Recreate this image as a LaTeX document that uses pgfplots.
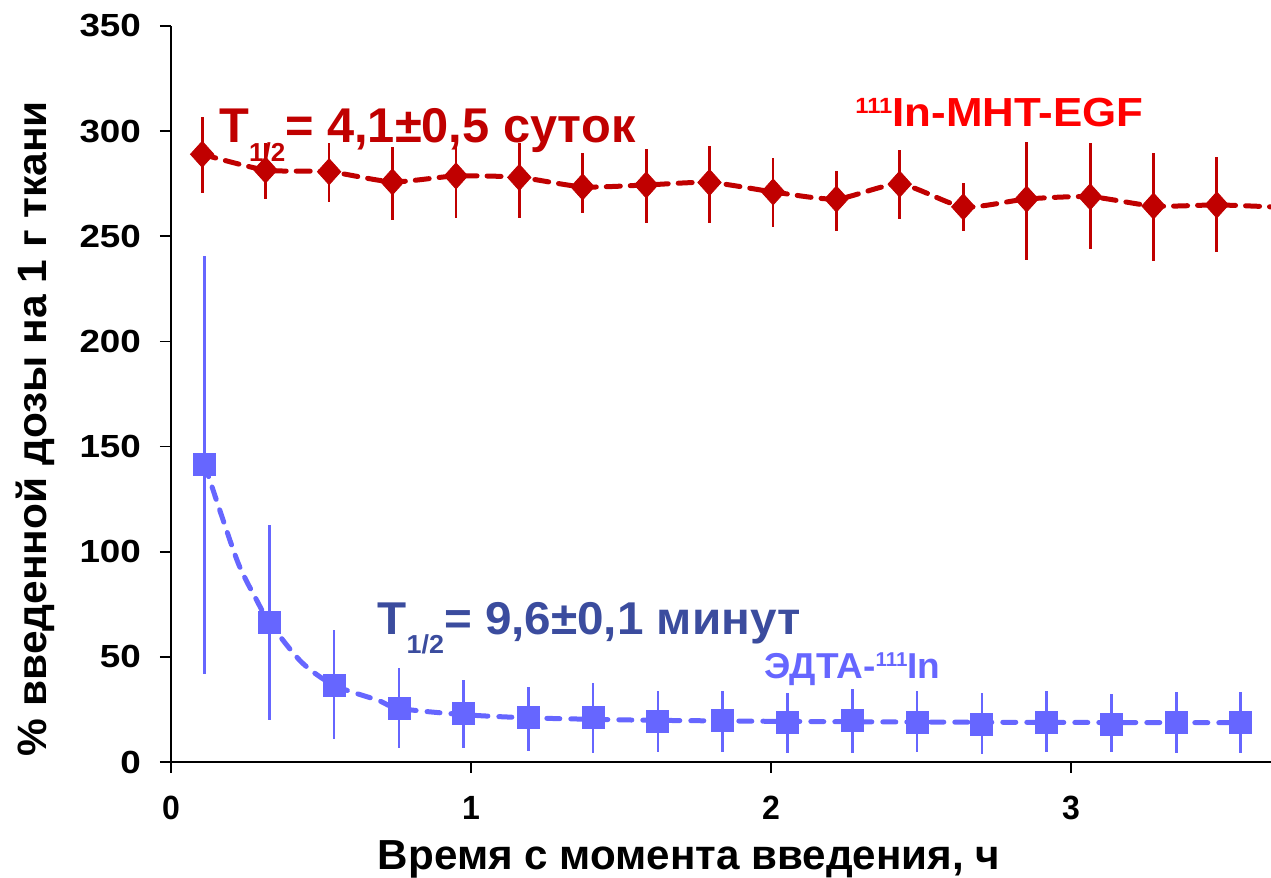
\documentclass[border=0pt]{standalone}
\usepackage{fontspec}
\setmainfont{Liberation Sans}
\usepackage{graphicx}
\usepackage{pgfplots}
\usepackage{pgfplotstable}
\pgfplotsset{compat=1.18}

\definecolor{dred}{RGB}{192,0,0}
\definecolor{bred}{RGB}{255,0,0}
\definecolor{lblue}{RGB}{102,102,255}
\definecolor{dblue}{RGB}{59,76,158}

\pgfplotstableread{
x y ep em
0.104 289.0 17.8 18.4
0.315 281.5 12.7 13.8
0.527 280.7 13.8 14.3
0.738 275.9 16.6 18.2
0.950 278.7 13.8 20.2
1.161 278.0 16.2 19.5
1.372 273.5 16.0 12.4
1.584 274.4 17.1 18.3
1.795 275.6 17.4 19.1
2.007 271.1 15.9 16.6
2.218 267.7 13.4 15.2
2.429 274.8 16.2 16.6
2.641 264.0 11.1 11.5
2.852 267.7 27.2 29.0
3.064 268.8 25.6 25.0
3.275 264.4 25.4 26.0
3.486 264.9 22.7 22.2
}\redtab

\pgfplotstableread{
x y
0.104 289.0
0.315 281.5
0.527 280.7
0.738 275.9
0.950 278.7
1.161 278.0
1.372 273.5
1.584 274.4
1.795 275.6
2.007 271.1
2.218 267.7
2.429 274.8
2.641 264.0
2.852 267.7
3.064 268.8
3.275 264.4
3.486 264.9
3.667 264.0
}\redline

\pgfplotstableread{
x y ep em
0.112 141.6 99.2 99.6
0.328 66.5 46.0 46.5
0.544 36.5 26.2 25.5
0.760 25.5 19.2 18.9
0.976 23.0 16.0 16.5
1.192 21.2 14.3 15.8
1.407 21.2 16.2 16.7
1.623 19.2 14.5 14.3
1.839 19.9 13.8 15.0
2.055 18.8 13.8 14.7
2.271 19.9 14.6 15.8
2.487 18.8 14.9 13.9
2.703 18.0 14.6 14.2
2.919 18.8 14.9 13.9
3.135 18.0 14.2 13.4
3.351 18.8 14.6 14.7
3.566 18.8 14.6 14.7
}\bluetab

\pgfplotstableread{
x y
0.112 141.6
0.170 116.6
0.227 93.5
0.285 77.1
0.328 66.5
0.435 47.5
0.544 36.5
0.689 29.4
0.760 25.5
0.976 22.5
1.192 21.0
1.407 20.3
1.623 19.8
2.055 19.3
2.487 19.0
3.000 18.8
3.566 18.7
}\blueline

\begin{document}
\begin{tikzpicture}
\begin{axis}[
  at={(0,0)}, anchor=south west,
  scale only axis,
  width=550pt, height=368pt,
  xmin=0, xmax=3.6667, ymin=0, ymax=350,
  clip=false,
  axis lines*=left,
  axis line style={line width=0.9pt, black},
  tick align=outside,
  major tick length=5.5pt,
  every tick/.style={black, line width=0.9pt},
  xtick={0,1,2,3},
  ytick={0,50,100,150,200,250,300,350},
  minor tick num=0,
  /pgf/number format/assume math mode=true,
  ticklabel style={font=\fontsize{16}{19}\selectfont\bfseries},
  xticklabel style={yshift=-8pt},
  yticklabel style={xshift=-6pt},
  xticklabel={\scalebox{1.0}[1.05]{\pgfmathprintnumber{\tick}}},
  yticklabel={\scalebox{1.15}[1]{\pgfmathprintnumber{\tick}}},
]
% red line
\addplot[dred, line width=2.5pt, line cap=round, dash pattern=on 7pt off 5pt, smooth, tension=0.4, mark=none]
  table[x=x, y=y] {\redline};
% red markers with error bars
\addplot[dred, only marks, mark=diamond*, mark size=6.5pt, mark options={xscale=1.2, fill=dred, draw=dred},
  error bars/.cd, y dir=both, y explicit, error mark=none,
  error bar style={line width=1.4pt, dred}]
  table[x=x, y=y, y error plus=ep, y error minus=em] {\redtab};
% blue line
\addplot[lblue, line width=2.5pt, line cap=round, dash pattern=on 6.5pt off 5.5pt, smooth, tension=0.5, mark=none]
  table[x=x, y=y] {\blueline};
% blue markers with error bars
\addplot[lblue, only marks, mark=square*, mark size=5.5pt, mark options={fill=lblue, draw=lblue},
  error bars/.cd, y dir=both, y explicit, error mark=none,
  error bar style={line width=1.3pt, lblue}]
  table[x=x, y=y, y error plus=ep, y error minus=em] {\bluetab};

% annotations
\node[anchor=base west, inner sep=0pt, text=dred] at (axis cs:0.160,294.4)
  {\resizebox{208pt}{\height}{\fontsize{24.4}{28}\selectfont\bfseries T\raisebox{-9.3pt}{\fontsize{13}{13}\selectfont 1/2}= 4,1±0,5 суток}};
\node[anchor=base west, inner sep=0pt, text=bred] at (axis cs:2.280,302.4)
  {\resizebox{144pt}{\height}{\fontsize{20.3}{24}\selectfont\bfseries \raisebox{6.5pt}{\fontsize{11}{11}\selectfont 111}In-MHT-EGF}};
\node[anchor=base west, inner sep=0pt, text=dblue] at (axis cs:0.687,60.6)
  {\resizebox{211.5pt}{\height}{\fontsize{23}{27}\selectfont\bfseries T\raisebox{-9.5pt}{\fontsize{13}{13}\selectfont 1/2}= 9,6±0,1 минут}};
\node[anchor=base west, inner sep=0pt, text=lblue] at (axis cs:1.977,39.9)
  {\resizebox{88pt}{\height}{\fontsize{18}{22}\selectfont\bfseries ЭДТА-\raisebox{5.8pt}{\fontsize{10}{10}\selectfont 111}In}};

% axis labels
\node[anchor=base, inner sep=0pt, rotate=90] at ([xshift=-62pt]axis description cs:0,0.4531)
  {\resizebox{327.5pt}{\height}{\fontsize{20.5}{24}\selectfont\bfseries \% введенной дозы на 1 г ткани}};
\node[anchor=base, inner sep=0pt] at ([yshift=-54pt]axis description cs:0.4709,0)
  {\resizebox{311pt}{\height}{\fontsize{21}{25}\selectfont\bfseries Время с момента введения, ч}};
\end{axis}
\pgfresetboundingbox
\path[use as bounding box] ([xshift=-85.5pt,yshift=-58pt]current axis.south west) rectangle ([yshift=13pt]current axis.north east);
\end{tikzpicture}
\end{document}
